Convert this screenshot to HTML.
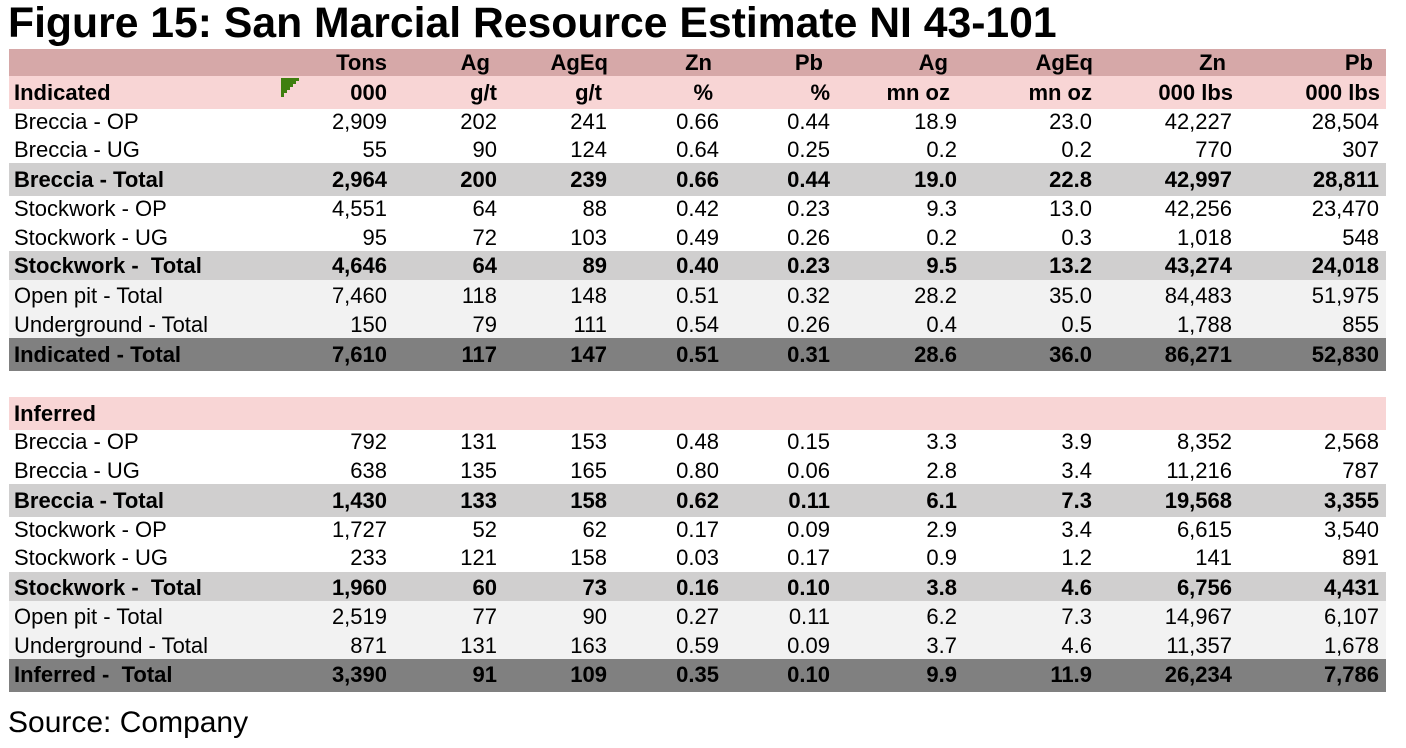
<!DOCTYPE html>
<html>
<head>
<meta charset="utf-8">
<style>
html,body{margin:0;padding:0;background:#fff;}
body{width:1406px;height:748px;position:relative;overflow:hidden;font-family:"Liberation Sans",Arial,sans-serif;color:#000;}
.title{position:absolute;left:8px;top:0px;font-size:42.7px;font-weight:bold;line-height:46px;white-space:nowrap;}
.band{position:absolute;left:9px;width:1377px;}
.row{position:absolute;left:0;width:1406px;height:30px;line-height:30px;font-size:22px;white-space:nowrap;}
.row span{position:absolute;top:0;}
.row .l{left:14px;}
.b{font-weight:bold;}
.src{position:absolute;left:8px;top:705px;font-size:30px;line-height:36px;white-space:nowrap;}
</style>
</head>
<body>
<div class="title">Figure 15: San Marcial Resource Estimate NI 43-101</div>

<div class="band" style="top:49px;height:27px;background:#d6a8a8;"></div>
<div class="band" style="top:76px;height:33px;background:#f8d5d5;"></div>
<div class="band" style="top:163px;height:33px;background:#d0cfcf;"></div>
<div class="band" style="top:251px;height:29px;background:#d0cfcf;"></div>
<div class="band" style="top:280px;height:58px;background:#f2f2f2;"></div>
<div class="band" style="top:338px;height:33px;background:#808080;"></div>
<div class="band" style="top:397px;height:33px;background:#f8d5d5;"></div>
<div class="band" style="top:484px;height:33px;background:#d0cfcf;"></div>
<div class="band" style="top:572px;height:29px;background:#d0cfcf;"></div>
<div class="band" style="top:601px;height:58px;background:#f2f2f2;"></div>
<div class="band" style="top:659px;height:33px;background:#808080;"></div>

<svg style="position:absolute;left:281px;top:78px;" width="18" height="19" viewBox="0 0 18 19">
<polygon points="0,0 18,0 18,3 15,3 15,6 12,6 12,9 9,9 9,12 6,12 6,15 3,15 3,19 0,19" fill="#3f7f0f"/>
</svg>

<div class="row b" style="top:47.5px;">
<span style="right:1019px">Tons</span><span style="right:916px">Ag</span><span style="right:798px">AgEq</span><span style="right:694px">Zn</span><span style="right:583px">Pb</span><span style="right:458px">Ag</span><span style="right:313px">AgEq</span><span style="right:180px">Zn</span><span style="right:33px">Pb</span>
</div>
<div class="row b" style="top:77.5px;">
<span class="l">Indicated</span>
<span style="right:1019px">000</span><span style="right:909px">g/t</span><span style="right:804px">g/t</span><span style="right:693px">%</span><span style="right:576px">%</span><span style="right:456px">mn oz</span><span style="right:314px">mn oz</span><span style="right:173px">000 lbs</span><span style="right:26px">000 lbs</span>
</div>

<div class="row" style="top:107px;"><span class="l">Breccia - OP</span><span style="right:1019px">2,909</span><span style="right:909px">202</span><span style="right:799px">241</span><span style="right:687px">0.66</span><span style="right:576px">0.44</span><span style="right:449px">18.9</span><span style="right:314px">23.0</span><span style="right:174px">42,227</span><span style="right:27px">28,504</span></div>
<div class="row" style="top:135px;"><span class="l">Breccia - UG</span><span style="right:1019px">55</span><span style="right:909px">90</span><span style="right:799px">124</span><span style="right:687px">0.64</span><span style="right:576px">0.25</span><span style="right:449px">0.2</span><span style="right:314px">0.2</span><span style="right:174px">770</span><span style="right:27px">307</span></div>
<div class="row b" style="top:164.5px;"><span class="l">Breccia - Total</span><span style="right:1019px">2,964</span><span style="right:909px">200</span><span style="right:799px">239</span><span style="right:687px">0.66</span><span style="right:576px">0.44</span><span style="right:449px">19.0</span><span style="right:314px">22.8</span><span style="right:174px">42,997</span><span style="right:27px">28,811</span></div>
<div class="row" style="top:194px;"><span class="l">Stockwork - OP</span><span style="right:1019px">4,551</span><span style="right:909px">64</span><span style="right:799px">88</span><span style="right:687px">0.42</span><span style="right:576px">0.23</span><span style="right:449px">9.3</span><span style="right:314px">13.0</span><span style="right:174px">42,256</span><span style="right:27px">23,470</span></div>
<div class="row" style="top:222.5px;"><span class="l">Stockwork - UG</span><span style="right:1019px">95</span><span style="right:909px">72</span><span style="right:799px">103</span><span style="right:687px">0.49</span><span style="right:576px">0.26</span><span style="right:449px">0.2</span><span style="right:314px">0.3</span><span style="right:174px">1,018</span><span style="right:27px">548</span></div>
<div class="row b" style="top:251px;"><span class="l">Stockwork -&nbsp; Total</span><span style="right:1019px">4,646</span><span style="right:909px">64</span><span style="right:799px">89</span><span style="right:687px">0.40</span><span style="right:576px">0.23</span><span style="right:449px">9.5</span><span style="right:314px">13.2</span><span style="right:174px">43,274</span><span style="right:27px">24,018</span></div>
<div class="row" style="top:280.5px;"><span class="l">Open pit - Total</span><span style="right:1019px">7,460</span><span style="right:909px">118</span><span style="right:799px">148</span><span style="right:687px">0.51</span><span style="right:576px">0.32</span><span style="right:449px">28.2</span><span style="right:314px">35.0</span><span style="right:174px">84,483</span><span style="right:27px">51,975</span></div>
<div class="row" style="top:309.5px;"><span class="l">Underground - Total</span><span style="right:1019px">150</span><span style="right:909px">79</span><span style="right:799px">111</span><span style="right:687px">0.54</span><span style="right:576px">0.26</span><span style="right:449px">0.4</span><span style="right:314px">0.5</span><span style="right:174px">1,788</span><span style="right:27px">855</span></div>
<div class="row b" style="top:339.5px;"><span class="l">Indicated - Total</span><span style="right:1019px">7,610</span><span style="right:909px">117</span><span style="right:799px">147</span><span style="right:687px">0.51</span><span style="right:576px">0.31</span><span style="right:449px">28.6</span><span style="right:314px">36.0</span><span style="right:174px">86,271</span><span style="right:27px">52,830</span></div>

<div class="row b" style="top:398.5px;"><span class="l">Inferred</span></div>
<div class="row" style="top:427px;"><span class="l">Breccia - OP</span><span style="right:1019px">792</span><span style="right:909px">131</span><span style="right:799px">153</span><span style="right:687px">0.48</span><span style="right:576px">0.15</span><span style="right:449px">3.3</span><span style="right:314px">3.9</span><span style="right:174px">8,352</span><span style="right:27px">2,568</span></div>
<div class="row" style="top:455.5px;"><span class="l">Breccia - UG</span><span style="right:1019px">638</span><span style="right:909px">135</span><span style="right:799px">165</span><span style="right:687px">0.80</span><span style="right:576px">0.06</span><span style="right:449px">2.8</span><span style="right:314px">3.4</span><span style="right:174px">11,216</span><span style="right:27px">787</span></div>
<div class="row b" style="top:485.5px;"><span class="l">Breccia - Total</span><span style="right:1019px">1,430</span><span style="right:909px">133</span><span style="right:799px">158</span><span style="right:687px">0.62</span><span style="right:576px">0.11</span><span style="right:449px">6.1</span><span style="right:314px">7.3</span><span style="right:174px">19,568</span><span style="right:27px">3,355</span></div>
<div class="row" style="top:514.5px;"><span class="l">Stockwork - OP</span><span style="right:1019px">1,727</span><span style="right:909px">52</span><span style="right:799px">62</span><span style="right:687px">0.17</span><span style="right:576px">0.09</span><span style="right:449px">2.9</span><span style="right:314px">3.4</span><span style="right:174px">6,615</span><span style="right:27px">3,540</span></div>
<div class="row" style="top:543px;"><span class="l">Stockwork - UG</span><span style="right:1019px">233</span><span style="right:909px">121</span><span style="right:799px">158</span><span style="right:687px">0.03</span><span style="right:576px">0.17</span><span style="right:449px">0.9</span><span style="right:314px">1.2</span><span style="right:174px">141</span><span style="right:27px">891</span></div>
<div class="row b" style="top:572.5px;"><span class="l">Stockwork -&nbsp; Total</span><span style="right:1019px">1,960</span><span style="right:909px">60</span><span style="right:799px">73</span><span style="right:687px">0.16</span><span style="right:576px">0.10</span><span style="right:449px">3.8</span><span style="right:314px">4.6</span><span style="right:174px">6,756</span><span style="right:27px">4,431</span></div>
<div class="row" style="top:601.5px;"><span class="l">Open pit - Total</span><span style="right:1019px">2,519</span><span style="right:909px">77</span><span style="right:799px">90</span><span style="right:687px">0.27</span><span style="right:576px">0.11</span><span style="right:449px">6.2</span><span style="right:314px">7.3</span><span style="right:174px">14,967</span><span style="right:27px">6,107</span></div>
<div class="row" style="top:630.5px;"><span class="l">Underground - Total</span><span style="right:1019px">871</span><span style="right:909px">131</span><span style="right:799px">163</span><span style="right:687px">0.59</span><span style="right:576px">0.09</span><span style="right:449px">3.7</span><span style="right:314px">4.6</span><span style="right:174px">11,357</span><span style="right:27px">1,678</span></div>
<div class="row b" style="top:660px;"><span class="l">Inferred -&nbsp; Total</span><span style="right:1019px">3,390</span><span style="right:909px">91</span><span style="right:799px">109</span><span style="right:687px">0.35</span><span style="right:576px">0.10</span><span style="right:449px">9.9</span><span style="right:314px">11.9</span><span style="right:174px">26,234</span><span style="right:27px">7,786</span></div>

<div class="src">Source: Company</div>
</body>
</html>
